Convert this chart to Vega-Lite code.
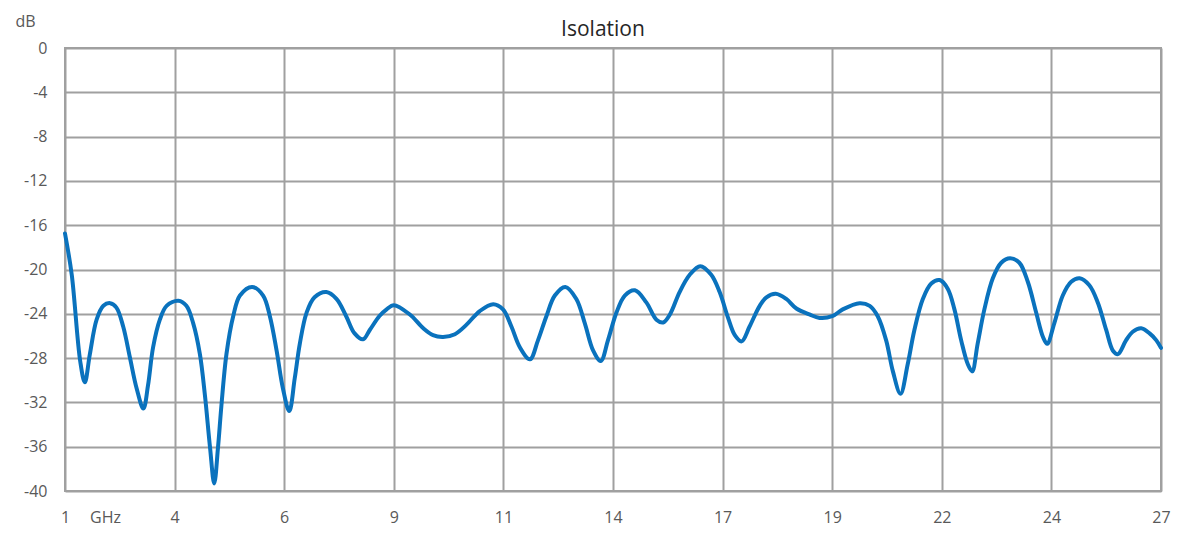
{
  "$schema": "https://vega.github.io/schema/vega-lite/v6.json",
  "width": 1096,
  "height": 443,
  "autosize": {"type": "none"},
  "padding": {"left": 65, "top": 48, "right": 39, "bottom": 49},
  "background": "white",
  "title": {"text": "Isolation", "font": "Open Sans", "fontSize": 21, "fontWeight": "normal", "color": "#262626", "anchor": "middle", "dx": -10, "dy": 56, "baseline": "alphabetic", "offset": 12},
  "config": {
    "view": {"stroke": "#a0a0a0", "strokeWidth": 2},
    "axis": {"labelFont": "Open Sans", "labelFontSize": 16, "labelColor": "#595959", "titleFont": "Open Sans", "titleFontSize": 16, "titleColor": "#595959", "titleFontWeight": "normal", "gridColor": "#a0a0a0", "gridWidth": 2, "gridOpacity": 1, "domain": false, "ticks": false}
  },
  "data": {"values": [
    {"f": 1.00, "db": -16.75}, {"f": 1.16, "db": -20.48}, {"f": 1.36, "db": -28.26}, {"f": 1.47, "db": -30.19}, {"f": 1.59, "db": -27.64}, {"f": 1.75, "db": -24.53}, {"f": 1.91, "db": -23.28}, {"f": 2.07, "db": -23.04}, {"f": 2.22, "db": -23.44}, {"f": 2.38, "db": -25.15}, {"f": 2.54, "db": -27.95}, {"f": 2.70, "db": -30.75}, {"f": 2.86, "db": -32.56}, {"f": 2.97, "db": -30.44}, {"f": 3.09, "db": -27.02}, {"f": 3.25, "db": -24.53}, {"f": 3.41, "db": -23.28}, {"f": 3.69, "db": -22.82}, {"f": 3.88, "db": -23.28}, {"f": 4.04, "db": -24.84}, {"f": 4.20, "db": -27.64}, {"f": 4.32, "db": -31.38}, {"f": 4.44, "db": -36.05}, {"f": 4.54, "db": -39.32}, {"f": 4.63, "db": -36.05}, {"f": 4.71, "db": -32.31}, {"f": 4.83, "db": -27.64}, {"f": 4.99, "db": -24.22}, {"f": 5.15, "db": -22.35}, {"f": 5.44, "db": -21.57}, {"f": 5.70, "db": -22.35}, {"f": 5.86, "db": -24.22}, {"f": 6.02, "db": -27.33}, {"f": 6.17, "db": -30.75}, {"f": 6.32, "db": -32.78}, {"f": 6.45, "db": -29.82}, {"f": 6.57, "db": -26.71}, {"f": 6.73, "db": -23.91}, {"f": 6.92, "db": -22.51}, {"f": 7.20, "db": -22.04}, {"f": 7.44, "db": -22.66}, {"f": 7.67, "db": -24.22}, {"f": 7.87, "db": -25.77}, {"f": 8.07, "db": -26.30}, {"f": 8.23, "db": -25.46}, {"f": 8.46, "db": -24.2}, {"f": 8.63, "db": -23.6}, {"f": 8.80, "db": -23.22}, {"f": 9.18, "db": -24.06}, {"f": 9.50, "db": -25.31}, {"f": 9.73, "db": -25.93}, {"f": 9.97, "db": -26.09}, {"f": 10.25, "db": -25.84}, {"f": 10.52, "db": -25.00}, {"f": 10.84, "db": -23.75}, {"f": 11.16, "db": -23.13}, {"f": 11.39, "db": -23.60}, {"f": 11.59, "db": -25.15}, {"f": 11.79, "db": -27.02}, {"f": 12.03, "db": -28.11}, {"f": 12.22, "db": -26.40}, {"f": 12.42, "db": -24.22}, {"f": 12.62, "db": -22.35}, {"f": 12.87, "db": -21.57}, {"f": 13.13, "db": -22.66}, {"f": 13.33, "db": -24.84}, {"f": 13.53, "db": -27.33}, {"f": 13.71, "db": -28.26}, {"f": 13.88, "db": -26.40}, {"f": 14.08, "db": -23.91}, {"f": 14.28, "db": -22.35}, {"f": 14.52, "db": -21.88}, {"f": 14.79, "db": -22.97}, {"f": 15.03, "db": -24.53}, {"f": 15.19, "db": -24.78}, {"f": 15.35, "db": -24.06}, {"f": 15.58, "db": -22.04}, {"f": 15.82, "db": -20.48}, {"f": 16.07, "db": -19.70}, {"f": 16.33, "db": -20.48}, {"f": 16.53, "db": -22.04}, {"f": 16.73, "db": -24.37}, {"f": 16.89, "db": -25.93}, {"f": 17.05, "db": -26.49}, {"f": 17.24, "db": -25.15}, {"f": 17.48, "db": -23.28}, {"f": 17.64, "db": -22.51}, {"f": 17.86, "db": -22.19}, {"f": 18.11, "db": -22.66}, {"f": 18.35, "db": -23.52}, {"f": 18.66, "db": -24.06}, {"f": 18.90, "db": -24.37}, {"f": 19.20, "db": -24.22}, {"f": 19.45, "db": -23.60}, {"f": 19.85, "db": -23.04}, {"f": 20.09, "db": -23.28}, {"f": 20.28, "db": -24.22}, {"f": 20.48, "db": -26.40}, {"f": 20.64, "db": -29.20}, {"f": 20.82, "db": -31.22}, {"f": 20.99, "db": -28.58}, {"f": 21.15, "db": -25.46}, {"f": 21.35, "db": -22.66}, {"f": 21.55, "db": -21.26}, {"f": 21.75, "db": -20.95}, {"f": 21.94, "db": -21.73}, {"f": 22.10, "db": -23.60}, {"f": 22.26, "db": -26.40}, {"f": 22.42, "db": -28.58}, {"f": 22.52, "db": -29.20}, {"f": 22.65, "db": -26.71}, {"f": 22.81, "db": -23.60}, {"f": 23.01, "db": -20.79}, {"f": 23.21, "db": -19.39}, {"f": 23.42, "db": -18.99}, {"f": 23.64, "db": -19.39}, {"f": 23.84, "db": -21.11}, {"f": 24.04, "db": -23.91}, {"f": 24.20, "db": -26.09}, {"f": 24.30, "db": -26.71}, {"f": 24.47, "db": -24.84}, {"f": 24.67, "db": -22.35}, {"f": 24.87, "db": -21.11}, {"f": 25.07, "db": -20.79}, {"f": 25.30, "db": -21.42}, {"f": 25.50, "db": -22.97}, {"f": 25.70, "db": -25.46}, {"f": 25.86, "db": -27.33}, {"f": 25.98, "db": -27.64}, {"f": 26.17, "db": -26.40}, {"f": 26.33, "db": -25.62}, {"f": 26.53, "db": -25.31}, {"f": 26.73, "db": -25.77}, {"f": 26.89, "db": -26.40}, {"f": 27.00, "db": -27.08}
  ]},
  "mark": {"type": "line", "interpolate": "catmull-rom", "color": "#0a72bd", "strokeWidth": 4, "strokeCap": "round", "strokeJoin": "round"},
  "encoding": {
    "x": {"field": "f", "type": "quantitative", "scale": {"domain": [1, 27], "nice": false, "zero": false},
      "axis": {"values": [1, 3.6, 6.2, 8.8, 11.4, 14, 16.6, 19.2, 21.8, 24.4, 27], "labelExpr": "format(round(datum.value), 'd')", "labelPadding": 18, "labelFlush": false, "labelOverlap": false, "title": "GHz", "titleX": 40, "titleY": 31, "titleAlign": "center", "titleBaseline": "alphabetic"}},
    "y": {"field": "db", "type": "quantitative", "scale": {"domain": [-40, 0], "nice": false, "zero": false},
      "axis": {"values": [0, -4, -8, -12, -16, -20, -24, -28, -32, -36, -40], "labelExpr": "datum.value == 0 ? '0' : '-' + abs(datum.value)", "labelPadding": 18, "labelFlush": false, "labelOverlap": false, "title": "dB", "titleAngle": 0, "titleX": -50, "titleY": -22, "titleAlign": "left", "titleBaseline": "alphabetic"}}
  }
}
